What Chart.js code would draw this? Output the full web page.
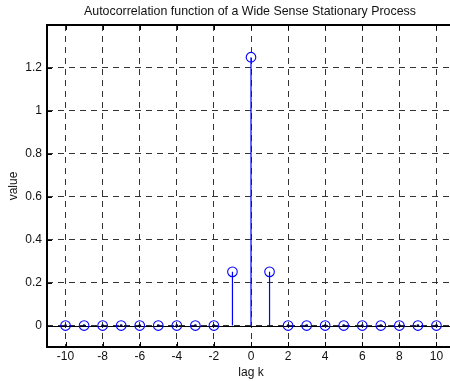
<!DOCTYPE html>
<html>

<head>
    <title>Autocorrelation function</title>
    <script src="https://cdn.jsdelivr.net/npm/chart.js@4.4.1/dist/chart.umd.min.js"></script>
    <style>
        body { margin: 0; overflow: hidden; background: #fff; }
        #wrap { width: 470px; height: 381px; }
    </style>
</head>

<body>
    <div id="wrap"><canvas id="myChart"></canvas></div>

    <script>
        // lag values and the autocorrelation
        var lags = [-10, -9, -8, -7, -6, -5, -4, -3, -2, -1, 0, 1, 2, 3, 4, 5, 6, 7, 8, 9, 10];
        var values = [0, 0, 0, 0, 0, 0, 0, 0, 0, 0.25, 1.25, 0.25, 0, 0, 0, 0, 0, 0, 0, 0, 0];
        var xTicks = [-10, -8, -6, -4, -2, 0, 2, 4, 6, 8, 10];
        var yTicks = [0, 0.2, 0.4, 0.6, 0.8, 1, 1.2];
        var titleText = 'Autocorrelation function of a Wide Sense Stationary Process';

        var FONT = 'Liberation Sans, Arial, Helvetica, sans-serif';
        var BLUE = '#0000ff';

        // stems: a line from 0 up to each value, broken by nulls
        var stemData = [];
        lags.forEach(function (k, i) {
            if (values[i] !== 0) {
                stemData.push({ x: k, y: 0 }, { x: k, y: values[i] }, { x: k, y: null });
            }
        });
        var markerData = lags.map(function (k, i) { return { x: k, y: values[i] }; });
        var dotData = markerData.filter(function (p) { return p.y === 0; });

        // box, inner tick marks, baseline and title (matlab style)
        var matlabFrame = {
            id: 'matlabFrame',
            beforeDatasetsDraw: function (chart) {
                var ctx = chart.ctx, a = chart.chartArea;
                var ys = chart.scales.y;
                ctx.save();
                ctx.strokeStyle = '#000';
                ctx.lineWidth = 1;
                var y0 = Math.round(ys.getPixelForValue(0)) + 0.5;
                ctx.beginPath();
                ctx.moveTo(a.left, y0);
                ctx.lineTo(a.right, y0);
                ctx.stroke();
                ctx.restore();
            },
            afterDraw: function (chart) {
                var ctx = chart.ctx, a = chart.chartArea;
                var xs = chart.scales.x, ys = chart.scales.y;
                ctx.save();
                ctx.strokeStyle = '#000';
                ctx.lineWidth = 2;
                ctx.strokeRect(a.left, a.top, a.right - a.left, a.bottom - a.top);
                ctx.lineWidth = 1;
                ctx.beginPath();
                xTicks.forEach(function (v) {
                    var px = Math.round(xs.getPixelForValue(v)) + 0.5;
                    ctx.moveTo(px, a.bottom); ctx.lineTo(px, a.bottom - 5);
                    ctx.moveTo(px, a.top); ctx.lineTo(px, a.top + 5);
                });
                yTicks.forEach(function (v) {
                    var py = Math.round(ys.getPixelForValue(v)) + 0.5;
                    ctx.moveTo(a.left, py); ctx.lineTo(a.left + 5, py);
                    ctx.moveTo(a.right, py); ctx.lineTo(a.right - 5, py);
                });
                ctx.stroke();
                ctx.fillStyle = '#111';
                ctx.font = '12.4px ' + FONT;
                ctx.textAlign = 'center';
                ctx.textBaseline = 'middle';
                ctx.fillText(titleText, (a.left + a.right) / 2 - 1, 12);
                ctx.restore();
            }
        };

        var ctx = document.getElementById('myChart');

        new Chart(ctx, {
            type: 'scatter',
            data: {
                datasets: [
                    {
                        data: markerData,
                        pointStyle: 'circle',
                        pointRadius: 4.8,
                        borderColor: BLUE,
                        backgroundColor: 'rgba(0,0,0,0)',
                        borderWidth: 1.1,
                        showLine: false
                    },
                    {
                        data: dotData,
                        pointStyle: 'circle',
                        pointRadius: 1.4,
                        borderWidth: 0,
                        backgroundColor: '#000055',
                        showLine: false
                    },
                    {
                        type: 'line',
                        data: stemData,
                        borderColor: BLUE,
                        borderWidth: 1.2,
                        pointRadius: 0,
                        spanGaps: false,
                        fill: false
                    }
                ]
            },
            options: {
                responsive: true,
                maintainAspectRatio: false,
                devicePixelRatio: 1,
                animation: false,
                layout: { padding: { top: 25, right: 15, left: 0, bottom: 0 } },
                plugins: {
                    legend: { display: false },
                    tooltip: { enabled: false },
                    title: { display: false }
                },
                scales: {
                    x: {
                        type: 'linear',
                        min: -11,
                        max: 11,
                        afterBuildTicks: function (s) { s.ticks = xTicks.map(function (v) { return { value: v }; }); },
                        afterFit: function (s) { s.height = 34; },
                        grid: { color: '#333', lineWidth: 1, drawTicks: false },
                        border: { display: false, dash: [6, 5] },
                        ticks: {
                            color: '#111',
                            padding: 2,
                            maxRotation: 0,
                            font: { family: FONT, size: 12 },
                            callback: function (v) { return String(v); }
                        },
                        title: {
                            display: true,
                            text: 'lag k',
                            color: '#111',
                            font: { family: FONT, size: 12 },
                            padding: { top: 0, bottom: 1 }
                        }
                    },
                    y: {
                        min: -0.1,
                        max: 1.4,
                        afterBuildTicks: function (s) { s.ticks = yTicks.map(function (v) { return { value: v }; }); },
                        afterFit: function (s) { s.width = 47; },
                        grid: { color: '#333', lineWidth: 1, drawTicks: false },
                        border: { display: false, dash: [6, 5] },
                        ticks: {
                            color: '#111',
                            padding: 5,
                            font: { family: FONT, size: 12 },
                            callback: function (v) { return String(Math.round(v * 10) / 10); }
                        },
                        title: {
                            display: true,
                            text: 'value',
                            color: '#111',
                            font: { family: FONT, size: 12 },
                            padding: { top: 6.8, bottom: 0 }
                        }
                    }
                }
            },
            plugins: [matlabFrame]
        });
    </script>
</body>

</html>
